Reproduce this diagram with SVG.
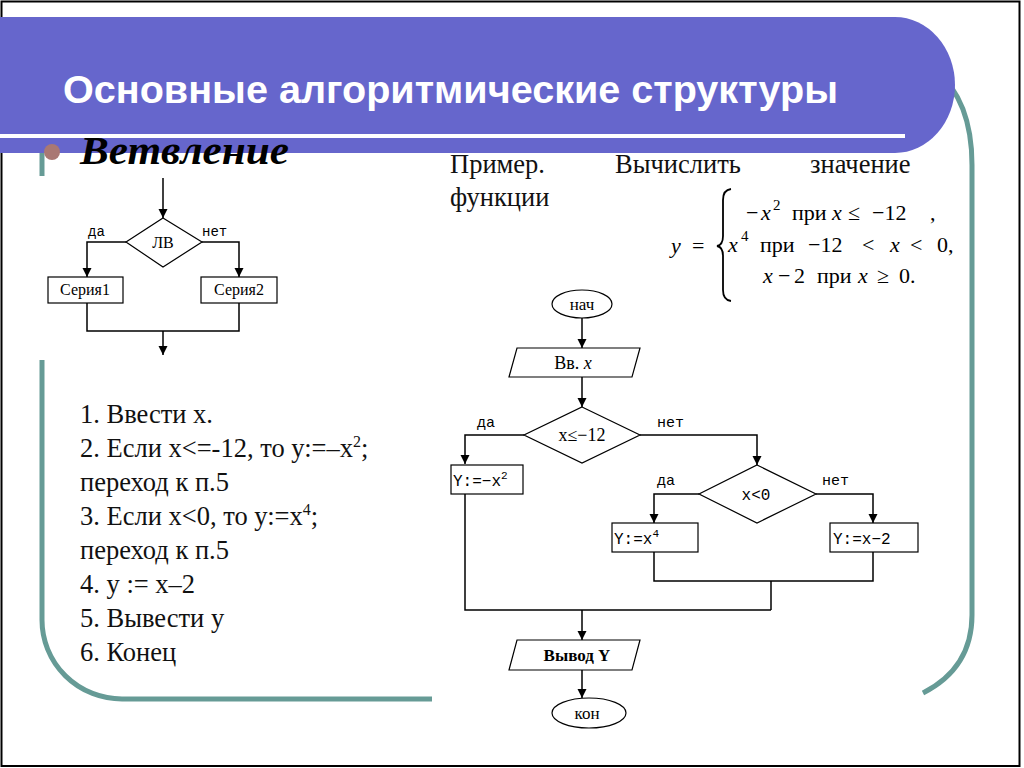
<svg xmlns="http://www.w3.org/2000/svg" width="1024" height="768" viewBox="0 0 1024 768">
<defs>
<style>
.ln{fill:none;stroke:#000;stroke-width:1.5}
.sh{fill:#fff;stroke:#000;stroke-width:1.2}
.t{font-family:"Liberation Serif","Times New Roman",serif;fill:#000}
.m{font-family:"Liberation Mono","Courier New",monospace;fill:#000}
.teal{fill:none;stroke:#669B96;stroke-width:5}
.body{font-family:"Liberation Serif","Times New Roman",serif;font-size:26.5px;fill:#111}
.f{font-family:"Liberation Serif","Times New Roman",serif;font-size:22px;fill:#000}
.i{font-style:italic}
</style>
<marker id="ah" viewBox="0 0 10 10" refX="10" refY="5" markerWidth="9" markerHeight="10" markerUnits="userSpaceOnUse" orient="auto"><path d="M0 0 L10 5 L0 10 Z" fill="#000"/></marker>
</defs>
<rect x="0" y="0" width="1024" height="768" fill="#fff"/>
<rect x="1.5" y="1.5" width="1018" height="764.5" fill="none" stroke="#000" stroke-width="2"/>

<g id="decor">
<path class="teal" d="M935 70 Q972 100 972 165 V615 Q972 668 923 693"/>
<path class="teal" d="M42 145 V176"/>
<path class="teal" d="M42 360 V620 A80 79 0 0 0 122 699 H432"/>
<path d="M0 17 H895 A60 68 0 0 1 895 153 H0 Z" fill="#6666CC"/>
<rect x="0" y="134" width="905" height="4" fill="#fff"/>
<circle cx="52" cy="152" r="8" fill="#A97873"/>
</g>

<g id="titles">
<text x="63" y="103" font-family="Liberation Sans, Arial, sans-serif" font-size="39" font-weight="bold" fill="#fff" textLength="775" lengthAdjust="spacingAndGlyphs">Основные алгоритмические структуры</text>
<text x="80" y="164" class="t" font-size="41" font-weight="bold" font-style="italic" textLength="209" lengthAdjust="spacingAndGlyphs">Ветвление</text>
<text class="body" y="173"><tspan x="450">Пример.</tspan><tspan x="615">Вычислить</tspan><tspan x="810">значение</tspan></text>
<text class="body" x="450" y="206">функции</text>
</g>

<g id="formula">
<path d="M731 189 Q723 190 723 200 V236 Q723 245 717 246 Q723 247 723 256 V290 Q723 300 731 301" fill="none" stroke="#000" stroke-width="1.8"/>
<text class="f"><tspan x="671" y="253" class="i">y</tspan><tspan x="692" y="253">=</tspan></text>
<text class="f" y="220"><tspan x="746">−</tspan><tspan x="761" class="i">x</tspan><tspan x="773" y="210" font-size="15">2</tspan><tspan x="792" y="220">при</tspan><tspan x="832" class="i">x</tspan><tspan x="848">≤</tspan><tspan x="872">−12</tspan><tspan x="930">,</tspan></text>
<text class="f" y="252"><tspan x="728" class="i">x</tspan><tspan x="741" y="241" font-size="15">4</tspan><tspan x="760" y="252">при</tspan><tspan x="808">−12</tspan><tspan x="862">&lt;</tspan><tspan x="890" class="i">x</tspan><tspan x="910">&lt;</tspan><tspan x="937">0,</tspan></text>
<text class="f" y="283"><tspan x="763" class="i">x</tspan><tspan x="778">−</tspan><tspan x="794">2</tspan><tspan x="817">при</tspan><tspan x="858" class="i">x</tspan><tspan x="877">≥</tspan><tspan x="899">0.</tspan></text>
</g>

<g id="steps" class="body">
<text x="80" y="423">1. Ввести х.</text>
<text x="80" y="457">2. Если х&lt;=-12, то у:=–х<tspan font-size="16" dy="-10">2</tspan><tspan dy="10">;</tspan></text>
<text x="80" y="491">переход к п.5</text>
<text x="80" y="525">3. Если х&lt;0, то у:=х<tspan font-size="16" dy="-10">4</tspan><tspan dy="10">;</tspan></text>
<text x="80" y="559">переход к п.5</text>
<text x="80" y="593">4. у := х–2</text>
<text x="80" y="627">5. Вывести у</text>
<text x="80" y="661">6. Конец</text>
</g>

<g id="small-connectors" class="ln">
<path d="M163 178 V218" marker-end="url(#ah)"/>
<path d="M126 242 H87 V277" marker-end="url(#ah)"/>
<path d="M202 242 H239 V277" marker-end="url(#ah)"/>
<path d="M87 303 V331 H239 V303"/>
<path d="M163 331 V355" marker-end="url(#ah)"/>
</g>
<g id="s-lv"><polygon class="sh" points="163,218 202,242 163,267 126,242"/><text x="163" y="248" class="t" font-size="16" text-anchor="middle">ЛВ</text></g>
<g id="s-ser1"><rect class="sh" x="48" y="277" width="75" height="26"/><text x="85" y="295" class="t" font-size="16" text-anchor="middle">Серия1</text></g>
<g id="s-ser2"><rect class="sh" x="201" y="277" width="76" height="26"/><text x="239" y="295" class="t" font-size="16" text-anchor="middle">Серия2</text></g>
<g id="s-labels" class="m" font-size="14"><text x="88" y="236">да</text><text x="202" y="236">нет</text></g>

<g id="connectors" class="ln">
<path d="M582 318 V348" marker-end="url(#ah)"/>
<path d="M582 377 V407" marker-end="url(#ah)"/>
<path d="M524 435 H465 V464" marker-end="url(#ah)"/>
<path d="M640 435 H757 V465" marker-end="url(#ah)"/>
<path d="M699 494 H654 V523" marker-end="url(#ah)"/>
<path d="M816 494 H873 V523" marker-end="url(#ah)"/>
<path d="M654 552 V581 H873 V552"/>
<path d="M771 581 V610"/>
<path d="M465 494 V610 H771"/>
<path d="M582 610 V640" marker-end="url(#ah)"/>
<path d="M582 670 V698" marker-end="url(#ah)"/>
</g>
<g id="labels" class="m" font-size="15">
<text x="477" y="427">да</text><text x="657" y="427">нет</text>
<text x="657" y="485">да</text><text x="822" y="485">нет</text>
</g>
<g id="n-start"><ellipse class="sh" cx="582" cy="304" rx="30" ry="14"/><text x="582" y="310" class="t" font-size="17" text-anchor="middle">нач</text></g>
<g id="n-input"><polygon class="sh" points="517,348 640,348 632,377 509,377"/><text x="573" y="369" class="t" font-size="18" text-anchor="middle">Вв. <tspan font-style="italic">x</tspan></text></g>
<g id="n-cond1"><polygon class="sh" points="582,407 640,435 582,463 524,435"/><text x="582" y="441" class="t" font-size="18" text-anchor="middle">x≤−12</text></g>
<g id="n-y1"><rect class="sh" x="451" y="465" width="72" height="29"/><text x="453" y="486" class="m" font-size="16">Y:=−x<tspan font-size="11" dy="-7">2</tspan></text></g>
<g id="n-cond2"><polygon class="sh" points="757,465 816,494 757,523 699,494"/><text x="756" y="500" class="m" font-size="16" text-anchor="middle">x&lt;0</text></g>
<g id="n-y2"><rect class="sh" x="612" y="523" width="86" height="29"/><text x="614" y="544" class="m" font-size="16">Y:=x<tspan font-size="11" dy="-7">4</tspan></text></g>
<g id="n-y3"><rect class="sh" x="830" y="523" width="88" height="29"/><text x="833" y="544" class="m" font-size="16">Y:=x−2</text></g>
<g id="n-output"><polygon class="sh" points="517,640 640,640 632,670 509,670"/><text x="577" y="661" class="t" font-size="17" font-weight="bold" text-anchor="middle">Вывод Y</text></g>
<g id="n-end"><ellipse class="sh" cx="589" cy="713" rx="37" ry="15"/><text x="587" y="719" class="t" font-size="17" text-anchor="middle">кон</text></g>
</svg>
